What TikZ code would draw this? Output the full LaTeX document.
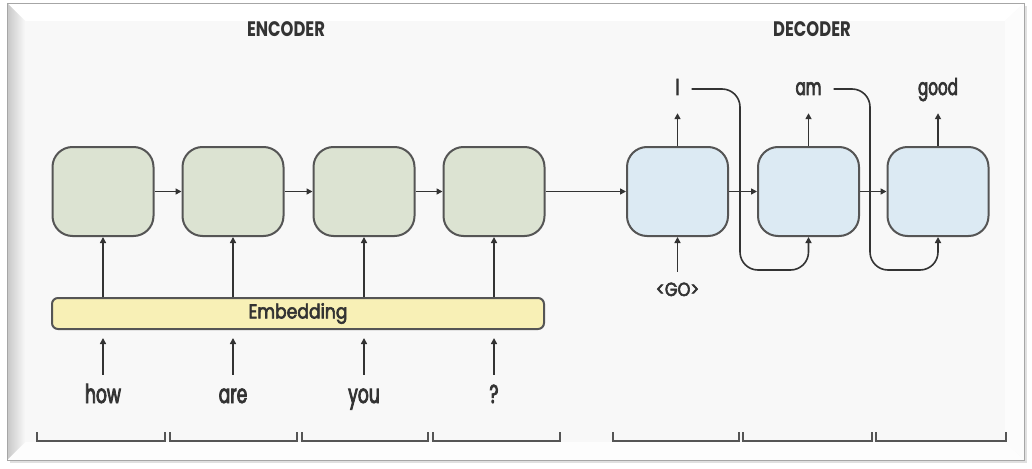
\documentclass[tikz,border=0pt]{standalone}
\usepackage{fontspec}
\setmainfont{Poppins}[FakeStretch=0.72]
\newfontfamily\labelfont{Poppins}[FakeStretch=0.66, FakeBold=3]
\newfontfamily\widelabelfont{Poppins}[FakeStretch=0.86, FakeBold=3]
\newfontfamily\headfont{Poppins}[FakeStretch=0.78]
\usetikzlibrary{arrows.meta}
\definecolor{pagebg}{HTML}{F8F8F8}
\definecolor{boxline}{HTML}{555555}
\definecolor{linec}{HTML}{333333}
\definecolor{textc}{HTML}{333333}
\definecolor{encfill}{HTML}{DCE3D2}
\definecolor{decfill}{HTML}{DCEAF3}
\definecolor{embfill}{HTML}{F8F0B6}
\begin{document}
\begin{tikzpicture}[x=1pt,y=-1pt,
  cell/.style={draw=boxline, line width=2pt, rounded corners=20pt,
    minimum width=101pt, minimum height=89pt, inner sep=0pt},
  enc/.style={cell, fill=encfill},
  dec/.style={cell, fill=decfill},
  link/.style={draw=linec, line width=1.6pt, -{Triangle[length=6pt,width=6pt]}},
  word/.style={inner sep=0pt, text height=20pt, text depth=6pt, text=textc,
    font=\labelfont\fontsize{26}{26}\selectfont},
  outword/.style={inner sep=0pt, text height=16pt, text depth=4pt, text=textc,
    font=\labelfont\fontsize{23}{23}\selectfont},
  head/.style={inner sep=0pt, text=textc, font=\headfont\fontsize{21}{21}\selectfont\bfseries},
  bracket/.style={draw=boxline, line width=2pt},
]
\useasboundingbox (0,0) rectangle (1032,468);

% framed panel with bevelled edges
\fill[white] (0,0) rectangle (1032,468);
\fill[pagebg] (7,3) rectangle (1024,460);
\fill[white] (7,3) -- (1024,3) -- (1005,21) -- (25,21) -- cycle;
\fill[white!60!pagebg] (1024,3) -- (1005,21) -- (1005,442) -- (1024,460) -- cycle;
\fill[white!70!pagebg] (7,460) -- (25,442) -- (1005,442) -- (1024,460) -- cycle;
\shade[left color=black!22, right color=pagebg] (7,3) -- (25,21) -- (25,442) -- (7,460) -- cycle;
\draw[black!12, line width=2.5pt] (10,462) -- (1026,462) -- (1026,6);
\draw[black!35, line width=0.8pt] (7,3) rectangle (1024,460);

% headings
\node[head] (enchead) at (286,29) {ENCODER};
\node[head] (dechead) at (812,29) {DECODER};

% recurrent cells
\node[enc] (e1) at (103,191.5) {};
\node[enc] (e2) at (233,191.5) {};
\node[enc] (e3) at (364,191.5) {};
\node[enc] (e4) at (494,191.5) {};
\node[dec] (d1) at (677.5,191.5) {};
\node[dec] (d2) at (808.5,191.5) {};
\node[dec] (d3) at (938,191.5) {};

\draw[link] (e1) -- (e2);
\draw[link] (e2) -- (e3);
\draw[link] (e3) -- (e4);
\draw[link] (e4) -- (d1);
\draw[link] (d1) -- (d2);
\draw[link] (d2) -- (d3);

% embedding layer
\node[draw=boxline, line width=2pt, fill=embfill, rounded corners=6pt,
  minimum width=492pt, minimum height=31pt, inner sep=0pt, text=textc,
  font=\widelabelfont\fontsize{20}{20}\selectfont] (emb) at (298,313.5) {Embedding};
\foreach \i in {1,...,4}
  \draw[link] (emb.north -| e\i) -- (e\i.south);

% input tokens
\node[word, anchor=base] (w1) at (103,403) {how};
\node[word, anchor=base] (w2) at (233,403) {are};
\node[word, anchor=base] (w3) at (364,403) {you};
\node[word, anchor=base] (w4) at (494,403) {?};
\foreach \i in {1,...,4}
  \draw[link, shorten <=8pt, shorten >=8pt] (w\i.north) -- (w\i |- emb.south);

% decoder outputs
\node[outword, anchor=base] (o1) at (677.5,95) {I};
\node[outword, anchor=base] (o2) at (808.5,95) {am};
\node[outword, anchor=base] (o3) at (938,95) {good};
\draw[link, shorten >=14pt] (d1.north) -- (o1.south);
\draw[link, shorten >=14pt] (d2.north) -- (o2.south);
\draw[link, shorten >=14pt] (d3.north) -- (o3.south);

% start token
\node[inner sep=0pt, text height=12pt, text depth=3pt, text=textc,
  font=\widelabelfont\fontsize{19}{19}\selectfont, anchor=base] (go) at (677.5,296) {<GO>};
\draw[link, shorten <=12pt] (go.north) -- (d1.south);

% fed-back outputs
\coordinate (k1) at (740,270);
\coordinate (k2) at (870,270);
\draw[link, rounded corners=18pt] ([xshift=12pt]o1.east) -| (k1) -| (d2.south);
\draw[link, rounded corners=18pt] ([xshift=12pt]o2.east) -| (k2) -| (d3.south);

% time-step brackets
\foreach \a/\b in {37/165, 170/297, 302/428, 433/560, 613/739, 743/872, 876/1006}
  \draw[bracket] (\a,432) -- (\a,441) -- (\b,441) -- (\b,432);
\end{tikzpicture}
\end{document}
